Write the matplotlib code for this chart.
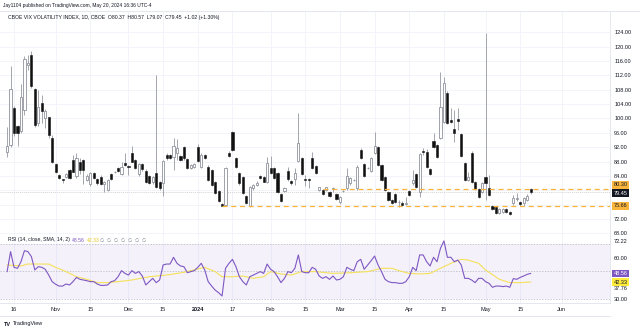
import numpy as np
import pandas as pd
import matplotlib.pyplot as plt
from matplotlib.lines import Line2D

plt.rcParams['font.family'] = ['Liberation Sans', 'DejaVu Sans']

# daily candles, Oct 12 2023 .. May 20 2024
opens = [90.7, 92.6, 102.8, 97.9, 96.6, 102.4, 114.9, 117.7, 108.1, 98.8,
         104.2, 100.0, 100.3, 94.6, 87.3, 84.2, 83.0, 83.6, 85.6, 88.4,
         84.0, 88.0, 88.4, 82.9, 81.7, 84.7, 83.0, 83.8, 81.7, 80.1,
         84.5, 85.0, 86.1, 84.5, 87.7, 86.7, 90.3, 88.4, 84.4, 87.2,
         85.4, 84.0, 82.2, 84.9, 82.2, 81.9, 89.8, 89.7, 89.2, 90.3,
         89.5, 92.0, 88.6, 86.1, 86.6, 92.0, 86.6, 89.8, 86.6, 85.6,
         82.4, 79.9, 76.2, 75.8, 90.5, 96.1, 88.9, 84.9, 83.8, 78.4,
         75.6, 80.5, 81.4, 84.0, 83.8, 82.4, 86.1, 86.1, 84.7, 78.9,
         79.9, 85.4, 82.6, 83.0, 88.2, 88.9, 83.0, 83.1, 88.9, 86.8,
         80.1, 80.1, 80.1, 79.6, 80.3, 79.0, 76.6, 79.8, 80.5, 81.9,
         82.8, 80.5, 91.1, 87.3, 86.2, 85.4, 90.3, 92.1, 87.0, 83.8,
         79.6, 77.3, 79.0, 76.6, 76.5, 76.3, 79.9, 82.1, 84.5, 79.6,
         91.0, 90.7, 85.8, 93.8, 92.6, 94.5, 99.1, 107.2, 99.6, 97.0,
         99.8, 95.7, 87.5, 82.9, 90.5, 82.4, 80.3, 79.6, 83.8, 80.6,
         75.6, 75.4, 73.7, 74.0, 74.7, 74.0, 76.5, 77.5, 76.8, 76.5,
         77.3, 80.37]
highs = [97.5, 114.6, 103.5, 98.2, 109.6, 117.5, 117.8, 118.8, 108.5, 107.9,
         106.5, 102.5, 100.5, 95.4, 87.6, 84.5, 83.2, 84.8, 86.0, 89.8,
         90.3, 89.0, 88.8, 84.5, 85.2, 85.0, 83.3, 84.3, 82.6, 83.2,
         84.8, 85.4, 86.4, 88.0, 90.3, 87.0, 92.3, 88.6, 87.5, 87.6,
         85.8, 84.3, 83.9, 112.1, 82.5, 88.5, 90.3, 90.0, 94.5, 94.2,
         89.8, 92.3, 88.9, 87.3, 87.5, 92.8, 90.3, 90.0, 87.0, 86.0,
         82.7, 80.2, 76.5, 86.5, 91.0, 96.5, 89.2, 85.2, 84.1, 78.7,
         81.3, 81.8, 82.6, 84.3, 84.0, 89.2, 89.6, 86.4, 85.0, 79.2,
         81.0, 86.5, 82.9, 86.1, 101.5, 89.3, 84.2, 83.4, 90.7, 87.1,
         80.9, 80.4, 81.0, 79.9, 80.8, 79.3, 78.3, 80.2, 86.1, 83.6,
         83.1, 86.9, 91.7, 87.6, 86.5, 89.2, 96.3, 92.4, 87.3, 84.1,
         79.9, 77.6, 79.3, 77.3, 77.1, 78.2, 80.2, 85.6, 84.8, 90.4,
         91.7, 91.5, 86.1, 95.9, 92.9, 113.0, 111.6, 107.6, 102.8, 102.4,
         102.8, 96.0, 87.8, 85.2, 90.8, 82.7, 80.6, 82.3, 123.7, 84.2,
         75.9, 75.7, 75.0, 75.0, 75.0, 74.3, 78.6, 79.2, 77.1, 78.0,
         79.0, 80.57]
lows = [89.3, 92.0, 95.0, 92.3, 96.0, 101.0, 113.5, 108.5, 97.5, 98.0,
        98.8, 97.3, 94.5, 87.5, 84.8, 83.0, 82.0, 83.3, 83.0, 85.0,
        83.5, 84.5, 81.7, 82.5, 81.2, 83.0, 81.5, 81.5, 79.6, 79.8,
        82.8, 84.8, 85.2, 84.2, 86.8, 84.2, 87.8, 85.9, 84.0, 85.5,
        82.0, 81.8, 81.8, 80.5, 80.2, 78.4, 88.5, 88.6, 85.6, 88.4,
        88.2, 88.5, 86.0, 85.8, 86.3, 88.0, 86.3, 88.6, 82.6, 81.2,
        79.0, 76.7, 75.66, 75.66, 89.4, 91.0, 86.3, 81.6, 79.0, 76.2,
        75.2, 80.2, 81.2, 83.0, 82.2, 82.0, 84.6, 83.0, 79.3, 76.7,
        79.6, 82.7, 81.6, 81.5, 87.8, 84.2, 81.3, 80.5, 85.8, 84.4,
        79.8, 78.7, 79.8, 78.2, 79.5, 77.2, 76.3, 79.6, 80.2, 81.5,
        82.5, 80.2, 88.6, 83.7, 86.0, 85.1, 90.0, 86.7, 82.6, 79.8,
        77.0, 76.2, 76.5, 75.4, 75.6, 75.9, 78.4, 81.5, 80.7, 78.2,
        89.8, 86.1, 84.2, 91.7, 89.0, 94.2, 98.8, 98.4, 98.6, 93.5,
        96.8, 89.2, 82.6, 82.6, 82.1, 80.0, 77.9, 79.3, 77.3, 78.4,
        74.4, 73.4, 73.4, 73.8, 73.8, 73.1, 75.8, 76.9, 75.5, 75.5,
        77.0, 79.07]
closes = [92.2, 108.1, 95.9, 95.9, 105.9, 116.6, 115.5, 109.0, 98.3, 103.3,
          102.2, 102.2, 95.4, 88.0, 85.2, 83.5, 82.8, 84.5, 83.3, 85.2,
          88.9, 85.6, 85.6, 84.0, 84.9, 83.3, 81.9, 81.7, 82.4, 82.9,
          83.1, 85.2, 85.4, 86.6, 87.0, 86.5, 88.0, 86.1, 87.2, 85.9,
          82.2, 82.1, 83.6, 80.8, 80.5, 88.2, 88.9, 88.9, 92.3, 91.7,
          88.4, 88.9, 86.3, 87.0, 87.2, 88.2, 89.8, 88.9, 82.9, 81.5,
          79.2, 77.0, 75.7, 86.1, 89.6, 91.2, 86.6, 81.9, 79.3, 76.5,
          81.0, 81.5, 82.1, 83.3, 82.4, 87.5, 84.9, 83.3, 79.6, 77.0,
          80.7, 83.0, 81.9, 84.7, 93.3, 84.5, 82.8, 82.9, 86.1, 84.7,
          80.8, 79.0, 80.8, 78.5, 80.5, 77.5, 78.0, 79.9, 84.0, 83.3,
          82.9, 86.6, 88.9, 84.0, 86.3, 88.9, 92.3, 87.0, 82.9, 80.1,
          77.3, 76.5, 76.8, 76.8, 75.9, 76.5, 78.7, 82.9, 81.0, 90.1,
          90.6, 86.4, 84.5, 92.0, 89.3, 103.1, 109.8, 98.7, 98.9, 96.0,
          99.4, 89.5, 82.9, 83.8, 82.4, 80.3, 78.2, 82.0, 82.0, 78.7,
          74.7, 73.7, 74.7, 74.7, 74.0, 73.4, 77.8, 77.8, 76.2, 77.8,
          78.43, 79.45]

rsi = [49.9, 64.4, 53.0, 52.3, 57.1, 65.1, 64.4, 60.8, 51.1, 53.5,
       53.0, 51.6, 47.4, 42.6, 40.7, 39.4, 39.4, 40.9, 40.2, 42.6,
       45.7, 44.3, 43.8, 43.3, 42.6, 42.6, 40.9, 39.9, 39.9, 40.2,
       42.6, 43.3, 46.2, 50.6, 48.6, 47.4, 50.6, 48.6, 49.9, 46.7,
       40.2, 42.6, 45.0, 41.9, 43.8, 54.7, 55.4, 55.4, 60.3, 55.9,
       54.0, 53.5, 49.1, 49.9, 50.6, 53.0, 55.9, 51.1, 42.6, 39.4,
       36.5, 34.6, 32.2, 52.3, 55.9, 58.8, 53.5, 46.2, 42.6, 40.2,
       46.2, 47.4, 48.6, 49.9, 48.6, 55.4, 51.6, 49.9, 46.2, 41.9,
       45.0, 49.9, 49.1, 52.3, 62.0, 49.9, 49.1, 49.1, 53.0, 51.6,
       46.7, 45.0, 46.2, 44.3, 46.7, 43.8, 44.3, 46.2, 53.0, 51.6,
       50.6, 57.1, 58.8, 51.6, 54.7, 57.8, 61.2, 54.7, 49.9, 44.3,
       42.6, 41.9, 41.9, 41.4, 41.4, 42.6, 46.2, 53.0, 50.6, 62.0,
       62.0, 57.1, 54.0, 60.3, 57.1, 66.8, 72.2, 60.3, 60.3, 57.1,
       58.3, 54.7, 45.0, 45.0, 43.8, 41.9, 45.0, 45.0, 42.6, 41.4,
       38.5, 39.4, 39.4, 39.0, 39.4, 38.5, 44.8, 44.3, 45.7, 46.7,
       47.9, 48.56]

sma_bar = [0, 4, 6, 12, 14, 17, 20, 23, 26, 29, 32, 36, 41, 46, 51, 57, 60, 62,
           65, 68, 71, 74, 76, 79, 82, 85, 89, 94, 99, 104, 108, 111, 113, 116,
           119, 122, 125, 128, 131, 133, 136, 138, 142, 145, 148, 151]
sma_val = [54.7, 54.0, 55.4, 55.4, 53.0, 49.9, 46.2, 44.3, 41.9, 41.9, 42.6,
           43.8, 46.2, 47.4, 49.4, 53.0, 49.9, 46.2, 46.2, 46.7, 45.0, 46.2,
           49.9, 48.2, 47.4, 49.9, 49.9, 48.6, 49.1, 49.9, 52.3, 52.3, 50.6,
           48.6, 48.2, 48.6, 52.3, 55.9, 58.8, 58.3, 55.9, 51.1, 44.3, 41.9,
           41.9, 42.33]

resistance = 80.30
support = 75.66
res_from = '2024-02-23'
sup_from = '2024-01-11'

price_ticks = [68, 72, 84, 88, 92, 96, 100, 104, 108, 112, 116, 120, 124]
rsi_ticks = [72.22, 60.00, 37.76, 30.00]

holidays = ['2023-11-23', '2023-12-25', '2024-01-01', '2024-01-15',
            '2024-02-19', '2024-03-29', '2024-05-27', '2024-06-19']
days = pd.bdate_range('2023-10-12', '2024-07-31', freq='C', holidays=holidays)
tick_dates = ['2023-10-16', '2023-11-01', '2023-11-15', '2023-12-01',
              '2023-12-15', '2024-01-02', '2024-01-17', '2024-02-01',
              '2024-02-15', '2024-03-01', '2024-03-15', '2024-04-01',
              '2024-04-15', '2024-05-01', '2024-05-15', '2024-06-03']
tick_labels = ['16', 'Nov', '15', 'Dec', '15', '2024', '17', 'Feb', '15',
               'Mar', '15', 'Apr', '15', 'May', '15', 'Jun']


def pos(d):
    return days.get_loc(pd.Timestamp(d))


W, H = 640, 331
def fx(px):
    return px / W
def fy(py):
    return 1 - py / H


fig = plt.figure(figsize=(6.4, 3.31), dpi=100)
ax = fig.add_axes([0, fy(236), fx(610), fy(11) - fy(236)])
ax2 = fig.add_axes([0, fy(303), fx(610), fy(236) - fy(303)], sharex=ax)

txt = '#131722'
grid = '#f0f3fa'
border = '#e0e3eb'
orange = '#f9b53b'

x = np.arange(len(closes))
o = np.array(opens)
c = np.array(closes)
h = np.array(highs)
l = np.array(lows)
up = c >= o
xt = [pos(d) for d in tick_dates]
xmax = 173.9

# grid
for a in (ax, ax2):
    for v in xt:
        a.axvline(v, color=grid, lw=0.6, zorder=0)
for p in price_ticks + [76, 80]:
    ax.axhline(p, color=grid, lw=0.6, zorder=0)

# candles
ax.vlines(x, l, h, color='#9598a1', lw=0.6, zorder=2)
ax.bar(x[up], np.maximum((c - o)[up], 0.08), bottom=o[up], width=0.62,
       color='white', edgecolor='#8f939c', linewidth=0.6, zorder=3)
ax.bar(x[~up], np.maximum((o - c)[~up], 0.08), bottom=c[~up], width=0.62,
       color='#111111', edgecolor='#111111', linewidth=0.4, zorder=3)

ax.axhline(closes[-1], color='#d3d3d3', lw=0.7, ls=(0, (1, 1)), zorder=1)
ax.plot([pos(res_from), xmax], [resistance, resistance], color=orange,
        lw=0.9, ls=(0, (4, 3)), zorder=4)
ax.plot([pos(sup_from), xmax], [support, support], color=orange,
        lw=0.9, ls=(0, (4, 3)), zorder=4)

ax.set_xlim(-2.05, xmax)
ax.set_ylim(67.26, 129.93)
ax.yaxis.tick_right()
ax.set_yticks(price_ticks)
ax.set_yticklabels(['%.2f' % p for p in price_ticks])
ax.tick_params(axis='y', length=0, pad=3, labelsize=4, labelcolor=txt)
ax.tick_params(axis='x', length=0, labelbottom=False)
for s in ('left', 'top'):
    ax.spines[s].set_visible(False)
ax.spines['right'].set_color(border)
ax.spines['bottom'].set_color(border)
ax.spines['right'].set_linewidth(0.6)
ax.spines['bottom'].set_linewidth(0.6)

tr = ax.get_yaxis_transform()
box = dict(boxstyle='square,pad=0.25', ec='none')
ax.text(1.006, 81.55, '%.2f' % resistance, transform=tr, fontsize=4,
        va='center', ha='left', color=txt, bbox=dict(box, fc=orange))
ax.text(1.006, 79.2, '%.2f' % closes[-1], transform=tr, fontsize=4,
        va='center', ha='left', color='white', bbox=dict(box, fc='#131722'))
ax.text(1.006, support, '%.2f' % support, transform=tr, fontsize=4,
        va='center', ha='left', color=txt, bbox=dict(box, fc=orange))

# RSI pane
purple = '#7e57c2'
yellow = '#f5e15a'
ax2.axhspan(30, 70, color=purple, alpha=0.08, lw=0, zorder=0)
ax2.axhline(70, color='#b2b5be', lw=0.5, ls=(0, (2, 2)), zorder=1)
ax2.axhline(50, color='#b2b5be', lw=0.5, ls=(0, (2, 2)), zorder=1)
ax2.axhline(30, color='#b2b5be', lw=0.5, ls=(0, (2, 2)), zorder=1)
ax2.plot(sma_bar, sma_val, color=yellow, lw=0.8, zorder=2)
ax2.plot(x, rsi, color=purple, lw=0.8, zorder=3)
ax2.set_ylim(27.1, 75.76)
ax2.yaxis.tick_right()
ax2.set_yticks(rsi_ticks)
ax2.set_yticklabels(['%.2f' % r for r in rsi_ticks])
ax2.tick_params(axis='y', length=0, pad=3, labelsize=4, labelcolor=txt)
ax2.set_xticks(xt)
ax2.set_xticklabels(tick_labels)
ax2.tick_params(axis='x', length=0, pad=3.2, labelsize=4, labelcolor=txt)
for lab in ax2.get_xticklabels():
    if lab.get_text() == '2024':
        lab.set_fontweight('bold')
for s in ('left', 'top'):
    ax2.spines[s].set_visible(False)
ax2.spines['right'].set_color(border)
ax2.spines['bottom'].set_color(border)
ax2.spines['right'].set_linewidth(0.6)
ax2.spines['bottom'].set_linewidth(0.6)
tr2 = ax2.get_yaxis_transform()
ax2.text(1.006, rsi[-1], '%.2f' % rsi[-1], transform=tr2, fontsize=4,
         va='center', ha='left', color='white', bbox=dict(box, fc=purple))
ax2.text(1.006, sma_val[-1], '%.2f' % sma_val[-1], transform=tr2, fontsize=4,
         va='center', ha='left', color=txt, bbox=dict(box, fc='#ffeb3b'))

# header / footer
fig.add_artist(Line2D([0, 1], [fy(11), fy(11)], color=border, lw=0.6))
fig.add_artist(Line2D([0, fx(610)], [fy(316), fy(316)], color=border, lw=0.6))
fig.text(fx(3), fy(5), 'Jay1104 published on TradingView.com, May 20, 2024 16:36 UTC-4',
         fontsize=3.5, va='center', color=txt)
fig.text(fx(8), fy(18),
         'CBOE VIX VOLATILITY INDEX, 1D, CBOE  O80.37  H80.57  L79.07  C79.45  +1.02 (+1.30%)',
         fontsize=3.7, va='center', color=txt)
fig.text(fx(8), fy(240), 'RSI (14, close, SMA, 14, 2)', fontsize=3.7,
         va='center', color=txt)
fig.text(fx(72), fy(240), '48.56', fontsize=3.7, va='center', color=purple)
fig.text(fx(87), fy(240), '42.33', fontsize=3.7, va='center', color='#e8c81e')
fig.text(fx(100), fy(240), '\u2205  \u2205  \u2205  \u2205  \u2205  \u2205  \u2205',
         fontsize=3.5, va='center', color='#787b86')
fig.text(fx(4), fy(324), 'TV', fontsize=4, fontweight='bold', va='center', color=txt)
fig.text(fx(13), fy(324), 'TradingView', fontsize=4, va='center', color=txt)

fig.savefig('out.png', dpi=100)
